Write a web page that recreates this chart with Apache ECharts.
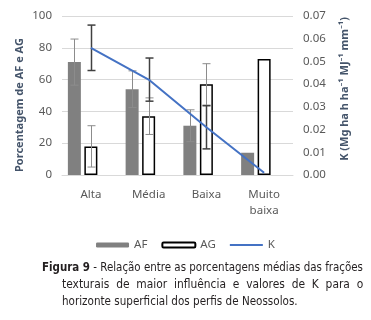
<!DOCTYPE html>
<html>
<head>
<meta charset="utf-8">
<script src="https://cdn.jsdelivr.net/npm/echarts@6/dist/echarts.min.js"></script>
<style>
  html, body { margin: 0; padding: 0; background: #fff; }
  #chart-container { width: 371px; height: 320px; }
</style>
</head>
<body>
<div id="chart-container"></div>
<script>
var dom = document.getElementById("chart-container");
var myChart = echarts.init(dom, null, { renderer: "canvas" });

const categories = ["Alta", "Média", "Baixa", "Muito\nbaixa"];
const afValues = [71, 54, 31, 14];
const afErrors = [14.5, 11.5, 10, null];
const agValues = [18, 37, 57, 73];
const agErrors = [13, 11.5, 13, null];
const kValues = [0.056, 0.042, 0.021, 0.001];
const kErrors = [0.01, 0.0095, 0.0095, null];
const leftTicks = [0, 20, 40, 60, 80, 100];
const rightTicks = [0, 0.01, 0.02, 0.03, 0.04, 0.05, 0.06, 0.07];
const captionLines = [
  "{b|Figura 9} - Relação entre as porcentagens médias das frações",
  "texturais de maior influência e valores de K para o",
  "horizonte superficial dos perfis de Neossolos.",
];

const FONT = "Noto Sans";
const CAPTION_FONT = "12.5px 'DejaVu Sans Condensed', 'Noto Sans'";
const BAR_W = 13;
const BAR_GAP = 3.5;

function errorSeries(name, values, errors, offset, yAxisIndex, color, width) {
  const data = values.map((v, i) =>
    errors[i] == null ? [i, "-", "-"] : [i, v - errors[i], v + errors[i]]
  );
  return {
    name,
    type: "custom",
    yAxisIndex,
    z: 4,
    silent: true,
    encode: { x: 0, y: [1, 2] },
    data,
    renderItem: (params, api) => {
      if (api.value(1) === "-" || isNaN(api.value(1))) return null;
      const lo = api.coord([api.value(0), api.value(1)]);
      const hi = api.coord([api.value(0), api.value(2)]);
      const x = Math.round(lo[0] + offset) + 0.5;
      const cap = 4;
      const style = { stroke: color, lineWidth: width };
      return {
        type: "group",
        children: [
          { type: "line", shape: { x1: x, y1: lo[1], x2: x, y2: hi[1] }, style },
          { type: "line", shape: { x1: x - cap, y1: lo[1], x2: x + cap, y2: lo[1] }, style },
          { type: "line", shape: { x1: x - cap, y1: hi[1], x2: x + cap, y2: hi[1] }, style },
        ],
      };
    },
  };
}

// caption is justified in the original, so lines get their own horizontal squeeze
function captionText(text, x, y, scaleX) {
  return {
    type: "text",
    x,
    y,
    scaleX,
    style: {
      text,
      fill: "#231f20",
      font: CAPTION_FONT,
      verticalAlign: "middle",
      rich: { b: { font: "bold " + CAPTION_FONT } },
    },
  };
}

const labelStyle = { color: "#595959", fontFamily: FONT, fontSize: 11.5 };

var option = {
  animation: false,
  textStyle: { fontFamily: FONT },
  grid: { left: 62, right: 78, top: 16, bottom: 145 },
  legend: {
    data: [
      { name: "AF" },
      { name: "AG" },
      { name: "K", icon: "path://M0,0H33V2H0Z" },
    ],
    top: 234,
    left: "center",
    itemWidth: 33,
    itemHeight: 5,
    itemGap: 14,
    textStyle: { color: "#595959", fontFamily: FONT, fontSize: 11.5 },
  },
  xAxis: {
    type: "category",
    data: categories,
    axisTick: { show: false },
    axisLine: { lineStyle: { color: "#d9d9d9" } },
    axisLabel: Object.assign({ margin: 12, lineHeight: 16, interval: 0 }, labelStyle),
  },
  yAxis: [
    {
      type: "value",
      min: leftTicks[0],
      max: leftTicks[leftTicks.length - 1],
      interval: 20,
      axisLine: { show: false },
      axisTick: { show: false },
      splitLine: { lineStyle: { color: "#d9d9d9" } },
      axisLabel: Object.assign({ margin: 10 }, labelStyle),
    },
    {
      type: "value",
      min: rightTicks[0],
      max: rightTicks[rightTicks.length - 1],
      interval: 0.01,
      axisLine: { show: false },
      axisTick: { show: false },
      splitLine: { show: false },
      axisLabel: Object.assign({ margin: 10, formatter: (v) => v.toFixed(2) }, labelStyle),
    },
  ],
  graphic: [
    {
      type: "text",
      x: 20,
      y: 105,
      rotation: Math.PI / 2,
      style: {
        text: "Porcentagem de AF e AG",
        fill: "#44546A",
        font: "bold 11px 'Noto Sans'",
        align: "center",
        verticalAlign: "middle",
      },
    },
    {
      type: "text",
      x: 345,
      y: 89,
      rotation: Math.PI / 2,
      style: {
        text: "K (Mg ha h ha⁻¹ MJ⁻¹ mm⁻¹)",
        fill: "#44546A",
        font: "bold 11px 'Noto Sans'",
        align: "center",
        verticalAlign: "middle",
      },
    },
    captionText(captionLines[0], 42, 268, 0.915),
    captionText(captionLines[1].split(" ").join("  "), 62, 285, 0.951),
    captionText(captionLines[2], 62, 302, 0.925),
  ],
  series: [
    {
      name: "AF",
      type: "bar",
      barWidth: BAR_W,
      barGap: (BAR_GAP / BAR_W) * 100 + "%",
      itemStyle: { color: "#808080" },
      data: afValues,
    },
    {
      name: "AG",
      type: "bar",
      barWidth: BAR_W,
      barGap: (BAR_GAP / BAR_W) * 100 + "%",
      itemStyle: { color: "#ffffff", borderColor: "#000000", borderWidth: 1.5 },
      data: agValues,
    },
    {
      name: "pad",
      type: "bar",
      barWidth: BAR_W,
      barGap: (BAR_GAP / BAR_W) * 100 + "%",
      data: ["-", "-", "-", "-"],
    },
    {
      name: "K",
      type: "line",
      yAxisIndex: 1,
      symbol: "none",
      z: 5,
      lineStyle: { color: "#4472C4", width: 2 },
      itemStyle: { color: "#4472C4" },
      data: kValues,
    },
    errorSeries("AF err", afValues, afErrors, -(BAR_W + BAR_GAP), 0, "#8c8c8c", 1),
    errorSeries("AG err", agValues, agErrors, 0, 0, "#8c8c8c", 1),
    errorSeries("K err", kValues, kErrors, 0, 1, "#404040", 1.5),
  ],
};

myChart.setOption(option);
window.addEventListener("resize", myChart.resize);
</script>
</body>
</html>
